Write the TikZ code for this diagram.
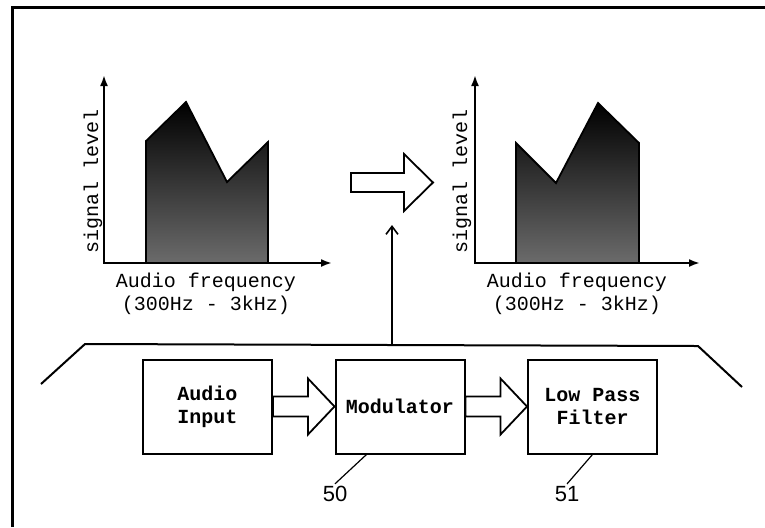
\documentclass[tikz,border=0pt]{standalone}
\usepackage{fontspec}
\setmainfont{Liberation Mono}
\setmonofont{Liberation Mono}
\setsansfont{Liberation Sans}
\usetikzlibrary{arrows.meta,calc}

\begin{document}
\begin{tikzpicture}[x=0.5pt,y=-0.5pt,
  axis/.style={line width=1pt,{Latex[length=5.5pt,width=4pt]}-{Latex[length=5.5pt,width=4pt]}},
  spectrum/.style={draw=black,line width=0.9pt,top color=black,middle color=black!88,bottom color=black!58},
  axislabel/.style={font=\fontsize{10}{11.5}\selectfont\ttfamily},
  blk/.style={draw,line width=1pt,minimum width=64.5pt,minimum height=47pt,inner sep=0pt,
    align=center,font=\fontsize{10}{11.5}\selectfont\ttfamily\bfseries},
  blockarrow/.style={draw,line width=0.9pt,fill=white,line join=miter},
  refnum/.style={font=\fontsize{11}{12}\selectfont\sffamily,inner sep=1pt}]
\useasboundingbox (0,0) rectangle (765,527);
% frame
\draw[line width=1.5pt] (12,527) -- (12,7) -- (765,7);
% spectrum before
\draw[spectrum] (146,263) -- (146,141) -- (186,102) -- (227,182) -- (268,142) -- (268,263) -- cycle;
\draw[axis] (104,75) -- (104,263) -- (332,263);
\node[axislabel,rotate=90] (ylabA) at (93,181) {signal level};
\node[axislabel] (xlabA) at (206,282) {Audio frequency};
\node[axislabel] (rngA) at (206,305) {(300Hz - 3kHz)};
% spectrum after
\draw[spectrum] (516,263) -- (516,143) -- (556,183) -- (598,103) -- (639,143) -- (639,263) -- cycle;
\draw[axis] (475,75) -- (475,263) -- (700,263);
\node[axislabel,rotate=90] (ylabB) at (462,181) {signal level};
\node[axislabel] (xlabB) at (577,282) {Audio frequency};
\node[axislabel] (rngB) at (577,305) {(300Hz - 3kHz)};
% shift arrow
\draw[blockarrow] (351,173) -- (404,173) -- (404,154) -- (433,182.5) -- (404,211) -- (404,192) -- (351,192) -- cycle;
% device
\draw[line width=1pt] (41,384) -- (85,344) -- (698,346) -- (742,387);
\coordinate (tap) at (392,345);
\coordinate (tapend) at (392,225);
\draw[line width=0.8pt,-{Straight Barb[length=4pt,width=6pt]}] (tap) -- (tapend);
\node[blk] (ain) at (207.5,406.5) {Audio\\Input};
\node[blk] (mod) at (400,406.5) {Modulator};
\node[blk] (lpf) at (592.5,406.5) {Low Pass\\Filter};
\draw[blockarrow] ($(ain.east)+(0,-10)$) -- ++(35,0) -- ++(0,-18) -- (mod.west)
  -- ($(ain.east)+(35,28)$) -- ++(0,-18) -- ($(ain.east)+(0,10)$) -- cycle;
\draw[blockarrow] ($(mod.east)+(0,-10)$) -- ++(35,0) -- ++(0,-18) -- (lpf.west)
  -- ($(mod.east)+(35,28)$) -- ++(0,-18) -- ($(mod.east)+(0,10)$) -- cycle;
% reference numerals
\node[refnum] (n50) at (335,494) {50};
\node[refnum] (n51) at (567,494) {51};
\draw[line width=0.6pt] ($(mod.south west)+(32,0)$) -- (n50.north);
\draw[line width=0.6pt] (lpf.south) -- (n51.north);
\end{tikzpicture}
\end{document}
